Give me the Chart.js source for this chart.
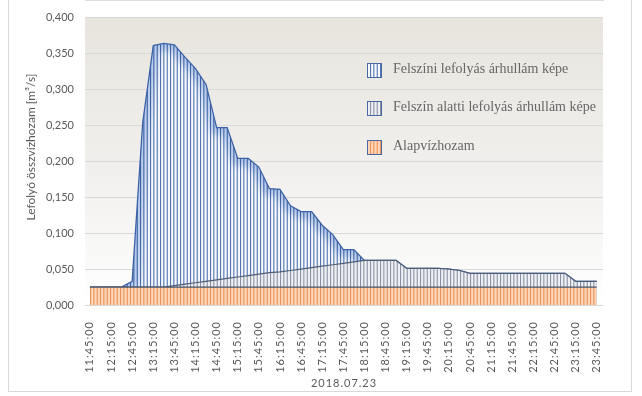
<!DOCTYPE html>
<html lang="hu">
<head>
    <meta charset="UTF-8">
    <title>Lefolyó összvízhozam</title>
    <script src="https://cdn.jsdelivr.net/npm/chart.js"></script>
    <style>
        html, body { margin: 0; padding: 0; background: #fff; }
        canvas { display: block; }
    </style>
</head>
<body>
    <canvas id="grafikon" width="642" height="396"></canvas>

    <script>
        // Időpontok (15 perces lépés)
        const idopontok = [
            '11:45', '12:00', '12:15', '12:30', '12:45', '13:00', '13:15', '13:30', '13:45',
            '14:00', '14:15', '14:30', '14:45', '15:00', '15:15', '15:30', '15:45',
            '16:00', '16:15', '16:30', '16:45', '17:00', '17:15', '17:30', '17:45',
            '18:00', '18:15', '18:30', '18:45', '19:00', '19:15', '19:30', '19:45',
            '20:00', '20:15', '20:30', '20:45', '21:00', '21:15', '21:30', '21:45',
            '22:00', '22:15', '22:30', '22:45', '23:00', '23:15', '23:30', '23:45'
        ];

        // Felszíni lefolyás árhullám képe (összesített görbe)
        const felszini = [
            0.025, 0.025, 0.025, 0.025, 0.033, 0.254, 0.361, 0.364, 0.362,
            0.345, 0.329, 0.307, 0.247, 0.247, 0.204, 0.204, 0.192,
            0.162, 0.161, 0.138, 0.130, 0.130, 0.111, 0.098, 0.077,
            0.077, 0.062, 0.062, 0.062, 0.062, 0.051, 0.051, 0.051,
            0.051, 0.050, 0.048, 0.044, 0.044, 0.044, 0.044, 0.044,
            0.044, 0.044, 0.044, 0.044, 0.044, 0.033, 0.033, 0.033
        ];

        // Felszín alatti lefolyás árhullám képe
        const felszinAlatti = [
            0.025, 0.025, 0.025, 0.025, 0.025, 0.025, 0.025, 0.025, 0.027,
            0.029, 0.031, 0.033, 0.035, 0.037, 0.039, 0.041, 0.043,
            0.045, 0.046, 0.048, 0.050, 0.052, 0.054, 0.056, 0.058,
            0.060, 0.062, 0.062, 0.062, 0.062, 0.051, 0.051, 0.051,
            0.051, 0.050, 0.048, 0.044, 0.044, 0.044, 0.044, 0.044,
            0.044, 0.044, 0.044, 0.044, 0.044, 0.033, 0.033, 0.033
        ];

        // Alapvízhozam
        const alapvizhozam = [
            0.025, 0.025, 0.025, 0.025, 0.025, 0.025, 0.025, 0.025, 0.025,
            0.025, 0.025, 0.025, 0.025, 0.025, 0.025, 0.025, 0.025,
            0.025, 0.025, 0.025, 0.025, 0.025, 0.025, 0.025, 0.025,
            0.025, 0.025, 0.025, 0.025, 0.025, 0.025, 0.025, 0.025,
            0.025, 0.025, 0.025, 0.025, 0.025, 0.025, 0.025, 0.025,
            0.025, 0.025, 0.025, 0.025, 0.025, 0.025, 0.025, 0.025
        ];

        const xCimkek = [
            '11:45:00', '12:15:00', '12:45:00', '13:15:00', '13:45:00', '14:15:00', '14:45:00',
            '15:15:00', '15:45:00', '16:15:00', '16:45:00', '17:15:00', '17:45:00', '18:15:00',
            '18:45:00', '19:15:00', '19:45:00', '20:15:00', '20:45:00', '21:15:00', '21:45:00',
            '22:15:00', '22:45:00', '23:15:00', '23:45:00'
        ];

        const sorozatNevek = [
            'Felszíni lefolyás árhullám képe',
            'Felszín alatti lefolyás árhullám képe',
            'Alapvízhozam'
        ];

        const datum = '2018.07.23';
        const yCim = 'Lefolyó összvízhozam [m³/s]';

        function perc(t) {
            const r = t.split(':').map(Number);
            return r[0] * 60 + r[1];
        }

        const canvas = document.getElementById('grafikon');
        const ctx = canvas.getContext('2d');

        // függőleges sraffozás mintázat
        function sraffozas(hatter, vonal) {
            const c = document.createElement('canvas');
            c.width = 10;
            c.height = 4;
            const g = c.getContext('2d');
            g.fillStyle = hatter;
            g.fillRect(0, 0, 10, 4);
            g.fillStyle = vonal;
            [0, 3.3, 6.7].forEach(x => g.fillRect(x, 0, 1.1, 4));
            return ctx.createPattern(c, 'repeat');
        }

        const mintak = [
            sraffozas('#f6f8fc', '#5274b0'),
            sraffozas('#eff0f3', '#8a93a3'),
            sraffozas('#fcd6b8', '#ee9257')
        ];

        function pontok(ertekek) {
            return ertekek.map((v, i) => ({ x: perc(idopontok[i]), y: v }));
        }

        const kiegeszitok = {
            id: 'kiegeszitok',
            beforeDraw(chart) {
                const c = chart.ctx;
                const a = chart.chartArea;
                c.letterSpacing = '0px';
                c.save();
                c.strokeStyle = '#d9d9d9';
                c.lineWidth = 1;
                c.strokeRect(8.5, -2, 623, 393.5);
                const g = c.createLinearGradient(0, a.top, 0, a.bottom);
                g.addColorStop(0, '#e8e5de');
                g.addColorStop(0.55, '#f1f0ee');
                g.addColorStop(1, '#ffffff');
                c.fillStyle = g;
                c.fillRect(a.left, a.top, a.right - a.left, a.bottom - a.top);
                // y tengely címe
                c.translate(31, 147);
                c.rotate(-Math.PI / 2);
                c.font = '12px Lato';
                c.fillStyle = '#595959';
                c.textAlign = 'center';
                c.textBaseline = 'middle';
                c.fillText(yCim, 0, 0);
                c.restore();
            },
            beforeDatasetDraw(chart, args) {
                // kék derengés a felszíni görbe alatt
                if (args.index !== 0) return;
                const c = chart.ctx;
                const p = args.meta.data;
                const alj = chart.chartArea.bottom;
                c.save();
                c.beginPath();
                c.moveTo(p[0].x, alj);
                p.forEach(q => c.lineTo(q.x, q.y));
                c.lineTo(p[p.length - 1].x, alj);
                c.closePath();
                c.clip();
                c.beginPath();
                p.forEach((q, i) => i ? c.lineTo(q.x, q.y) : c.moveTo(q.x, q.y));
                c.globalCompositeOperation = 'multiply';
                c.filter = 'blur(3px)';
                c.lineWidth = 14;
                c.strokeStyle = 'rgba(140,175,225,0.6)';
                c.stroke();
                c.restore();
            },
            afterDatasetsDraw(chart) {
                chart.ctx.letterSpacing = '1px';
            },
            afterDraw(chart) {
                const c = chart.ctx;
                c.letterSpacing = '0px';
                c.save();
                const sorY = [70, 108, 147];
                sorozatNevek.forEach((nev, i) => {
                    c.fillStyle = mintak[i];
                    c.fillRect(367, sorY[i] - 7, 15, 15);
                    c.strokeStyle = '#4a69a3';
                    c.lineWidth = 1;
                    c.strokeRect(367.5, sorY[i] - 6.5, 14, 14);
                    c.font = '14px "Liberation Serif"';
                    c.fillStyle = '#666666';
                    c.textBaseline = 'middle';
                    c.fillText(nev, 393, sorY[i] - 0.5);
                });
                c.restore();
            }
        };

        new Chart(ctx, {
            type: 'line',
            data: {
                datasets: [
                    {
                        label: sorozatNevek[0],
                        data: pontok(felszini),
                        fill: 'origin',
                        backgroundColor: mintak[0],
                        borderColor: '#3d62a6',
                        borderWidth: 1.3,
                        pointRadius: 0,
                        order: 3
                    },
                    {
                        label: sorozatNevek[1],
                        data: pontok(felszinAlatti),
                        fill: 'origin',
                        backgroundColor: mintak[1],
                        borderColor: '#4e5d78',
                        borderWidth: 1.2,
                        pointRadius: 0,
                        order: 2
                    },
                    {
                        label: sorozatNevek[2],
                        data: pontok(alapvizhozam),
                        fill: 'origin',
                        backgroundColor: mintak[2],
                        borderColor: '#44546a',
                        borderWidth: 1.2,
                        pointRadius: 0,
                        order: 1
                    }
                ]
            },
            options: {
                responsive: false,
                animation: false,
                devicePixelRatio: 1,
                layout: { padding: { left: 0, top: 13, right: 39, bottom: 0 } },
                plugins: {
                    legend: { display: false },
                    tooltip: { enabled: false }
                },
                scales: {
                    x: {
                        type: 'linear',
                        min: perc('11:45') - 7,
                        max: perc('23:45') + 9,
                        grid: { display: false, z: 1 },
                        border: { color: '#bfbfbf' },
                        afterBuildTicks: s => {
                            s.ticks = xCimkek.map(c => ({ value: perc(c) }));
                        },
                        afterFit: s => {
                            s.height = 91;
                            s.paddingLeft = 0;
                            s.paddingRight = 0;
                        },
                        ticks: {
                            z: 1,
                            autoSkip: false,
                            minRotation: 90,
                            maxRotation: 90,
                            padding: 8,
                            color: '#595959',
                            font: { family: 'Lato', size: 11 },
                            callback: v => xCimkek.find(c => perc(c) === v) || ''
                        },
                        title: {
                            display: true,
                            text: datum,
                            color: '#595959',
                            font: { family: 'Lato', size: 11 },
                            padding: { top: 0, bottom: 6 }
                        }
                    },
                    y: {
                        min: 0,
                        max: 0.4,
                        afterFit: s => { s.width = 85; },
                        grid: { color: '#d9d9d9', drawTicks: false },
                        border: { display: false },
                        ticks: {
                            stepSize: 0.05,
                            padding: 11,
                            color: '#595959',
                            font: { family: 'Lato', size: 11 },
                            callback: v => v.toFixed(3).replace('.', ',')
                        }
                    }
                }
            },
            plugins: [kiegeszitok]
        });
    </script>
</body>
</html>
